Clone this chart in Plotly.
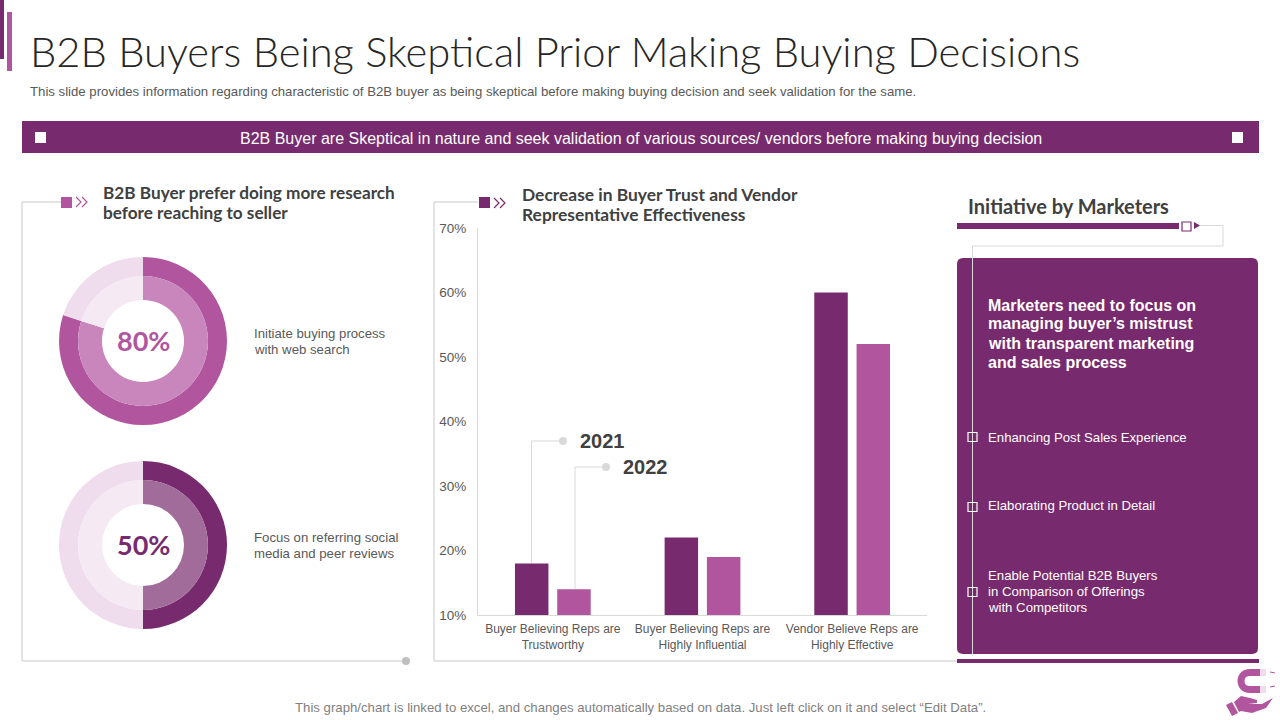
import plotly.graph_objects as go

# ---- data ----
CATEGORIES = ["Buyer Believing Reps are<br>Trustworthy",
              "Buyer Believing Reps are<br>Highly Influential",
              "Vendor Believe Reps are<br>Highly Effective"]
VALUES_2021 = [18, 22, 60]
VALUES_2022 = [14, 19, 52]
Y_TICKS = [10, 20, 30, 40, 50, 60, 70]
Y_LABELS = ["10%", "20%", "30%", "40%", "50%", "60%", "70%"]
DONUT_A = [80, 20]
DONUT_B = [50, 50]

DARK = "#782a6e"
MID = "#b1559f"
GREY = "#c8c8c8"
W, H = 1280, 720
SANS = "Liberation Sans"
GEO = "Lato"
BODY = 13.2


def px(x):
    return x / W


def py(y):
    return 1 - y / H


def P(x, y):
    return f"{px(x):.5f},{py(y):.5f}"


shapes = []
annotations = []


def rect(x0, y0, x1, y1, fill=None, line=None, lw=1):
    shapes.append(dict(type="rect", xref="paper", yref="paper",
                       x0=px(x0), x1=px(x1), y0=py(y1), y1=py(y0),
                       fillcolor=fill or "rgba(0,0,0,0)",
                       line=dict(color=line or "rgba(0,0,0,0)", width=lw if line else 0)))


def raw_path(d, fill=None, line=None, lw=1):
    shapes.append(dict(type="path", xref="paper", yref="paper", path=d,
                       fillcolor=fill or "rgba(0,0,0,0)",
                       line=dict(color=line or "rgba(0,0,0,0)", width=lw if line else 0)))


def poly(points, line=GREY, lw=1, fill=None, close=False):
    d = "M " + " L ".join(P(x, y) for x, y in points) + (" Z" if close else "")
    raw_path(d, fill, line, lw)


def circle(cx, cy, r, fill):
    shapes.append(dict(type="circle", xref="paper", yref="paper",
                       x0=px(cx - r), x1=px(cx + r), y0=py(cy + r), y1=py(cy - r),
                       fillcolor=fill, line=dict(width=0)))


def txt(x, y, s, size, color="#404040", family=SANS, anchor="left", bold=False, weight=None):
    if bold:
        s = f"<b>{s}</b>"
    font = dict(size=size, color=color, family=family)
    if weight:
        font["weight"] = weight
    annotations.append(dict(xref="paper", yref="paper", x=px(x), y=py(y), text=s,
                            showarrow=False, xanchor=anchor, yanchor="middle",
                            font=font, borderpad=0, borderwidth=0))


def chevrons(x, y, color):
    for dx in (0, 6):
        poly([(x + dx, y - 5), (x + dx + 5, y), (x + dx, y + 5)], line=color, lw=1.2)


# title block
rect(0, 0, 4, 59, fill=DARK)
rect(7, 12, 12, 71, fill=MID)
txt(30, 51.5, "B2B Buyers Being Skeptical Prior Making Buying Decisions", 41.7, "#262626", GEO, weight=300)
txt(30, 91, "This slide provides information regarding characteristic of B2B buyer as being skeptical before making buying decision and seek validation for the same.",
    BODY, "#595959")

# banner
rect(22, 121, 1259, 153, fill=DARK)
rect(35, 132, 46, 143, fill="#ffffff")
rect(1232, 132, 1243, 143, fill="#ffffff")
txt(641, 138, "B2B Buyer are Skeptical in nature and seek validation of various sources/ vendors before making buying decision",
    16, "#ffffff", anchor="center")

# left frame
poly([(61, 202), (22, 202), (22, 661), (406, 661)])
circle(406, 661, 4, "#bfbfbf")
rect(61, 197, 72, 208, fill=MID)
chevrons(76, 202, MID)
txt(103, 193, "B2B Buyer prefer doing more research", 17.2, "#404040", GEO, bold=True)
txt(103, 212, "before reaching to seller", 17.2, "#404040", GEO, bold=True)
txt(143, 340, "80%", 27, MID, GEO, "center", True)
txt(143, 544, "50%", 27, DARK, GEO, "center", True)
txt(254, 333, "Initiate buying process", BODY, "#595959")
txt(254, 349, "with web search", BODY, "#595959")
txt(254, 537, "Focus on referring social", BODY, "#595959")
txt(254, 553, "media and peer reviews", BODY, "#595959")

# middle frame
poly([(478, 202), (434, 202), (434, 661), (957, 661)])
rect(479, 197, 490, 208, fill=DARK)
chevrons(494, 203, DARK)
txt(522, 195, "Decrease in Buyer Trust and Vendor", 17.4, "#404040", GEO, bold=True)
txt(522, 214, "Representative Effectiveness", 17.4, "#404040", GEO, bold=True)

# callouts
poly([(531.5, 563), (531.5, 441), (563, 441)], line="#d9d9d9")
circle(563, 441, 4, "#d9d9d9")
poly([(575, 589), (575, 467), (606, 467)], line="#d9d9d9")
circle(606, 467, 4, "#d9d9d9")
txt(580, 441, "2021", 20, "#404040", bold=True)
txt(623, 467, "2022", 20, "#404040", bold=True)

# right column
txt(968, 206, "Initiative by Marketers", 20, "#404040", GEO, bold=True)
rect(957, 223, 1179, 229, fill=DARK)
r = 6
raw_path(f"M {P(957 + r, 258)} L {P(1258 - r, 258)} Q {P(1258, 258)} {P(1258, 258 + r)} "
         f"L {P(1258, 654 - r)} Q {P(1258, 654)} {P(1258 - r, 654)} L {P(957 + r, 654)} "
         f"Q {P(957, 654)} {P(957, 654 - r)} L {P(957, 258 + r)} Q {P(957, 258)} {P(957 + r, 258)} Z",
         fill=DARK)
rect(957, 659, 1259, 663, fill=DARK)
poly([(1200, 225.5), (1223, 225.5), (1223, 246), (972.5, 246), (972.5, 654)], line="#d9d9d9")
rect(1182, 222, 1191, 231, fill="#ffffff", line=DARK, lw=1.2)
poly([(1194, 222), (1200, 225.5), (1194, 229)], line=None, fill=DARK, close=True)
for yy, ty, lines in [(437, 437.5, ["Enhancing Post Sales Experience"]),
                      (507, 506, ["Elaborating Product in Detail"]),
                      (592, 591, ["Enable Potential B2B Buyers", "in Comparison of Offerings", "with Competitors"])]:
    rect(968, yy - 4.5, 977, yy + 4.5, line="#ffffff", lw=1.2)
    y0 = ty - (len(lines) - 1) * 8
    for i, s in enumerate(lines):
        txt(988, y0 + i * 16, s, BODY, "#ffffff")
for i, s in enumerate(["Marketers need to focus on", "managing buyer’s mistrust",
                       "with transparent marketing", "and sales process"]):
    txt(988, 305 + i * 19, s, 16, "#ffffff", bold=True)

# footer
txt(640, 707, "This graph/chart is linked to excel, and changes automatically based on data. Just left click on it and select “Edit Data”.",
    BODY, "#7f7f7f", anchor="center")

# icon: magnet held above a hand
raw_path(f"M {P(1260, 672.5)} L {P(1250, 672.5)} C {P(1238, 672.5)} {P(1238, 689.5)} {P(1250, 689.5)} L {P(1260, 689.5)}",
         line=MID, lw=7)
rect(1260, 669, 1266, 676, fill="#f0dcec")
rect(1260, 686, 1266, 693, fill="#f0dcec")
poly([(1270, 672), (1275, 673)], line=MID, lw=1)
poly([(1270, 687), (1275, 686)], line=MID, lw=1)
poly([(1226, 705), (1232, 702), (1238, 713), (1232, 716)], line=None, fill=MID, close=True)
poly([(1234, 702), (1241, 696), (1250, 698), (1257, 700), (1257, 703), (1248, 704), (1262, 704), (1273, 698),
      (1266, 708), (1252, 713), (1241, 711), (1239, 712)], line=None, fill=MID, close=True)

fig = go.Figure()


def donut(values, cx, cy, colors_outer, colors_inner):
    for radius, hole, cols in [(84, 65 / 84, colors_outer), (65, 41 / 65, colors_inner)]:
        fig.add_trace(go.Pie(values=values, hole=hole, sort=False, direction="clockwise", rotation=0,
                             marker=dict(colors=cols, line=dict(width=0)), textinfo="none",
                             hoverinfo="skip", showlegend=False,
                             domain=dict(x=[px(cx - radius), px(cx + radius)],
                                         y=[py(cy + radius), py(cy - radius)])))


donut(DONUT_A, 143, 341, [MID, "#efdcec"], ["#c886bd", "#f5e9f3"])
donut(DONUT_B, 143, 545, [DARK, "#efdcec"], ["#a16c9a", "#f5e9f3"])

fig.add_trace(go.Bar(name="2021", x=CATEGORIES, y=VALUES_2021, marker=dict(color=DARK, line=dict(width=0))))
fig.add_trace(go.Bar(name="2022", x=CATEGORIES, y=VALUES_2022, marker=dict(color=MID, line=dict(width=0))))

fig.update_layout(
    width=W, height=H, autosize=False, margin=dict(l=0, r=0, t=0, b=0, pad=0),
    paper_bgcolor="#ffffff", plot_bgcolor="#ffffff", showlegend=False,
    barmode="group", bargap=0.435, bargroupgap=0.208,
    shapes=shapes, annotations=annotations,
    xaxis=dict(domain=[px(478), px(927)], anchor="y", showgrid=False, ticks="", showline=True, automargin=False,
               linecolor="#d9d9d9", linewidth=1, zeroline=False, ticklabelstandoff=3,
               tickfont=dict(size=12, color="#595959", family=SANS)),
    yaxis=dict(domain=[py(615), py(228)], anchor="x", range=[10, 70], tickvals=Y_TICKS, ticktext=Y_LABELS,
               showgrid=False, ticks="", showline=True, linecolor="#d9d9d9", linewidth=1, zeroline=False,
               automargin=False, ticklabelstandoff=8,
               tickfont=dict(size=13.5, color="#595959", family=SANS)),
)

fig.write_html("out.html", config=dict(displayModeBar=False),
               post_script="document.body.style.margin='0';document.body.style.overflow='hidden';")
